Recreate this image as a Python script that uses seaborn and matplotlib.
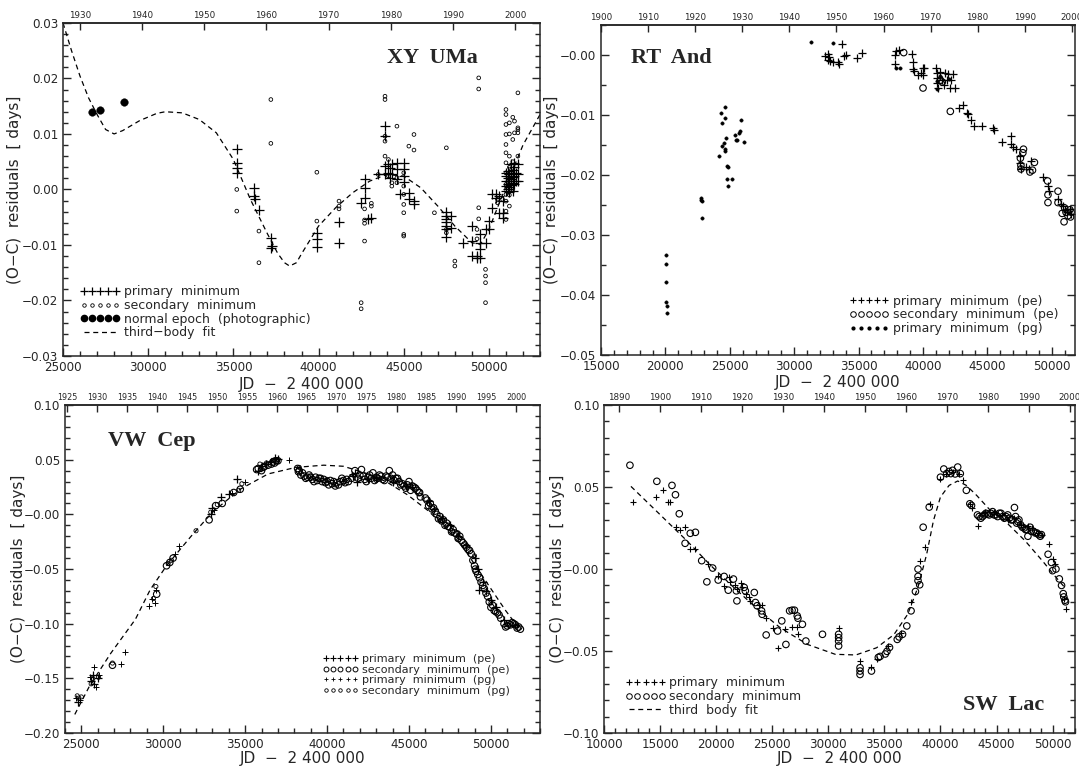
import numpy as np
import matplotlib
matplotlib.use("Agg")
import matplotlib.pyplot as plt
import seaborn as sns
from matplotlib.lines import Line2D
from matplotlib.ticker import MultipleLocator, FuncFormatter

# ---------------------------------------------------------------------------
# XY UMa
# ---------------------------------------------------------------------------
xy_prim_jd = [35200, 35200, 35200, 35200, 36200, 36200, 36250, 36500, 37200, 37200, 37250,
              39900, 39900, 39900, 41200, 41200, 42500, 42700, 42700, 42700, 42900, 43100,
              43500, 43900, 43900, 43900, 43900, 44100, 44100, 44200, 44200, 44300, 44300,
              44600, 44600, 44600, 44800, 45000, 45000, 45000, 45000, 45300, 45300, 45600, 45600,
              47500, 47500, 47500, 47500, 47500, 47500, 47500, 47800, 47800, 48500,
              49000, 49000, 49000, 49300, 49300, 49500, 49500, 49500, 49500, 49800, 49800,
              50000, 50000, 50200, 50200, 50400, 50400, 50600, 50600, 50800, 50800, 50800,
              51000, 51000, 51000, 51000, 51000, 51100, 51100, 51100, 51100,
              51200, 51200, 51200, 51200, 51300, 51300, 51300, 51300,
              51400, 51400, 51400, 51400, 51500, 51500, 51500, 51500,
              51600, 51600, 51700, 51700, 51700]
xy_prim_oc = [0.0072, 0.0048, 0.0030, 0.0039, 0.0003, -0.0012, -0.0018, -0.0037, -0.0087, -0.0105, -0.0102,
              -0.0078, -0.0090, -0.0103, -0.0059, -0.0096, -0.0024, 0.0019, 0.0003, -0.0015, -0.0054, -0.0052,
              0.0027, 0.0115, 0.0096, 0.0042, 0.0027, 0.0045, 0.0030, 0.0039, 0.0021, 0.0045, 0.0027,
              0.0048, 0.0036, 0.0018, -0.0009, 0.0048, 0.0036, 0.0024, 0.0013, -0.0006, -0.0018, -0.0021, -0.0027,
              -0.0041, -0.0047, -0.0053, -0.0059, -0.0066, -0.0072, -0.0085, -0.0048, -0.0069, -0.0096,
              -0.0066, -0.0093, -0.0120, -0.0120, -0.0123, -0.0081, -0.0096, -0.0108, -0.0123, -0.0072, -0.0096,
              -0.0057, -0.0072, -0.0009, -0.0033, -0.0009, -0.0015, -0.0012, -0.0042, -0.0021, -0.0042, -0.0051,
              0.0030, 0.0024, 0.0015, 0.0006, -0.0003, 0.0033, 0.0020, 0.0010, 0.0000,
              0.0027, 0.0015, 0.0005, -0.0005, 0.0045, 0.0030, 0.0018, 0.0008,
              0.0035, 0.0022, 0.0012, -0.0002, 0.0048, 0.0040, 0.0025, 0.0010,
              0.0030, 0.0015, 0.0045, 0.0027, 0.0015]

xy_sec_jd = [35200, 35200, 36500, 36500, 37200, 37200, 39900, 39900, 41200, 41200, 41200,
             42500, 42500, 42700, 42700, 42700, 42700, 43100, 43100, 43500,
             43900, 43900, 43900, 43900, 43900, 44100, 44100, 44300, 44300, 44600, 44600, 44600,
             45000, 45000, 45000, 45000, 45000, 45000, 45000, 45300, 45600, 45600, 46800,
             47500, 47500, 47500, 48000, 48000, 49300, 49300, 49400, 49400, 49400, 49400,
             49800, 49800, 49800, 49800, 50500, 50500, 50800,
             51000, 51000, 51000, 51000, 51000, 51000, 51000, 51000, 51000, 51000, 51000, 51000, 51000,
             51200, 51200, 51200, 51200, 51200, 51200, 51200, 51400, 51400, 51400, 51400,
             51500, 51500, 51700, 51700, 51700, 51700, 51700]
xy_sec_oc = [0.0000, -0.0039, -0.0075, -0.0132, 0.0162, 0.0083, 0.0031, -0.0057, -0.0021, -0.0030, -0.0035,
             -0.0204, -0.0215, -0.0035, -0.0055, -0.0061, -0.0093, -0.0025, -0.0030, 0.0027,
             0.0168, 0.0162, 0.0096, 0.0087, 0.0060, 0.0054, 0.0024, 0.0012, 0.0006, 0.0114, 0.0021, 0.0012,
             0.0030, 0.0006, -0.0009, -0.0027, -0.0042, -0.0081, -0.0084, 0.0078, 0.0099, 0.0071, -0.0042,
             0.0075, -0.0072, -0.0078, -0.0129, -0.0138, -0.0072, -0.0089, 0.0201, 0.0181, -0.0033, -0.0053,
             -0.0144, -0.0156, -0.0168, -0.0204, -0.0018, -0.0024, -0.0018,
             0.0144, 0.0135, 0.0117, 0.0099, 0.0081, 0.0066, 0.0048, 0.0030, 0.0009, -0.0009, -0.0021, -0.0039, -0.0054,
             0.0120, 0.0100, 0.0060, 0.0040, 0.0020, -0.0010, -0.0030, 0.0130, 0.0090, 0.0050, 0.0000,
             0.0123, 0.0102, 0.0174, 0.0111, 0.0108, 0.0102, 0.0060]

xy_norm_jd = [26700, 27200, 28600]
xy_norm_oc = [0.0140, 0.0144, 0.0158]

xy_fit_jd = [25000, 25500, 26000, 26500, 27000, 27500, 28000, 28500, 29500, 30500, 31000, 32000,
             33000, 34000, 35000, 36000, 37000, 37600, 38000, 38300, 38700, 39000, 40000, 41000,
             42000, 43000, 44000, 45000, 46000, 47000, 48000, 49000, 49500, 50000, 51000, 52000, 53000]
xy_fit_oc = [0.0300, 0.0250, 0.0204, 0.0165, 0.0135, 0.0108, 0.0100, 0.0106, 0.0124, 0.0137, 0.0140, 0.0138,
             0.0126, 0.0102, 0.0054, -0.0018, -0.0080, -0.0115, -0.0132, -0.0138, -0.0132, -0.0116, -0.0066, -0.0033,
             -0.0006, 0.0015, 0.0027, 0.0024, 0.0003, -0.0030, -0.0066, -0.0096, -0.0099, -0.0072, 0.0006, 0.0080, 0.0135]

# ---------------------------------------------------------------------------
# RT And
# ---------------------------------------------------------------------------
rt_pg_jd = [20080, 20080, 20080, 20080, 20100, 20100, 22800, 22800, 22820, 22820,
            24160, 24350, 24400, 24400, 24620, 24620, 24560, 24600, 24620, 24700, 24750, 24830, 24750,
            24890, 25200, 25370, 25480, 25580, 25690, 25820, 25900, 26090,
            31300, 33030, 37900, 38250, 41050, 41050, 42000, 41300]
rt_pg_oc = [-0.0334, -0.0348, -0.0378, -0.0412, -0.0418, -0.0430, -0.0238, -0.0241, -0.0244, -0.0271,
            -0.0169, -0.0096, -0.0114, -0.0152, -0.0087, -0.0105, -0.0146, -0.0157, -0.0160, -0.0138, -0.0185, -0.0186, -0.0206,
            -0.0219, -0.0206, -0.0133, -0.0142, -0.0142, -0.0130, -0.0126, -0.0109, -0.0145,
            0.0022, 0.0020, -0.0022, -0.0021, -0.0044, -0.0057, -0.0040, -0.0035]

rt_pe_jd = [32400, 32600, 32700, 32650, 32800, 33000, 33400, 33450, 33700, 33900, 34000, 34900, 35300,
            37850, 37900, 38100, 37800, 39180, 39200, 39260, 39300, 39580, 39850, 39980, 40050, 40000,
            41000, 41050, 41100, 41100, 41150, 41300, 41450, 41600, 41700, 41850, 41950, 42100, 42200, 42350, 42500,
            42780, 43100, 43450, 43500, 43700, 43990, 44600, 45460, 45500, 46120, 46800, 46850, 46950, 47190,
            47540, 47560, 47600, 48000, 48250, 48400, 49300, 49700, 49750, 50500, 50700, 50900, 51000, 51200, 51400, 51500]
rt_pe_oc = [-0.0002, 0.0001, -0.0004, -0.0008, -0.0010, -0.0011, -0.0011, -0.0015, 0.0019, -0.0001, 0.0000, -0.0005, 0.0004,
            0.0000, 0.0006, 0.0009, -0.0015, 0.0001, -0.0012, -0.0024, -0.0027, -0.0033, -0.0030, -0.0022, -0.0021, -0.0033,
            -0.0022, -0.0030, -0.0039, -0.0047, -0.0055, -0.0028, -0.0041, -0.0050, -0.0030, -0.0041, -0.0031, -0.0055, -0.0041, -0.0032, -0.0055,
            -0.0088, -0.0084, -0.0097, -0.0099, -0.0108, -0.0119, -0.0118, -0.0122, -0.0125, -0.0145, -0.0135, -0.0149, -0.0154, -0.0157,
            -0.0169, -0.0180, -0.0190, -0.0187, -0.0190, -0.0176, -0.0204, -0.0218, -0.0226, -0.0240, -0.0248, -0.0252, -0.0258, -0.0262, -0.0256, -0.0265]

rt_sec_jd = [38500, 40000, 41350, 41500, 42120, 47560, 47600, 47600, 47750, 47800, 48300, 48500, 48650,
             49670, 49700, 49700, 50480, 50480, 50800, 50950, 51000, 51100, 51250, 51400, 51450, 51500]
rt_sec_oc = [0.0004, -0.0055, -0.0042, -0.0045, -0.0094, -0.0172, -0.0184, -0.0190, -0.0163, -0.0157, -0.0195, -0.0192, -0.0179,
             -0.0210, -0.0233, -0.0246, -0.0227, -0.0246, -0.0264, -0.0278, -0.0255, -0.0262, -0.0268, -0.0258, -0.0270, -0.0262]

# ---------------------------------------------------------------------------
# VW Cep
# ---------------------------------------------------------------------------
vw_pe_jd = [24800, 25600, 25700, 25800, 26000, 34500, 34000, 33500, 33000, 32900,
            35800, 36000, 36300, 36600, 36800, 37000,
            41600, 41700, 41800, 42500, 43000, 44000, 44800, 45200,
            46200, 46500, 47000, 47500, 48000, 48500, 49000, 49200, 49300, 49500, 49700, 50000, 50300, 50800, 51500]
vw_pe_oc = [-0.172, -0.152, -0.147, -0.155, -0.150, 0.032, 0.019, 0.016, 0.006, 0.000,
            0.040, 0.044, 0.046, 0.048, 0.052, 0.051,
            0.035, 0.038, 0.030, 0.032, 0.033, 0.030, 0.026, 0.025,
            0.012, 0.005, -0.003, -0.010, -0.020, -0.028, -0.040, -0.050, -0.069, -0.062, -0.070, -0.078, -0.085, -0.097, -0.101]

vw_sec_jd = [38200, 38300, 38500, 38600, 38700, 38900, 39000, 39100, 39300, 39400, 39500, 39700, 39800,
             40000, 40200, 40300, 40500, 40600, 40800, 41000, 41200, 41500, 41700, 42000, 42100, 42300,
             42500, 42600, 42800, 43000, 43200, 43400, 43600, 43800, 44000, 44200, 44400, 44600, 44800,
             45000, 45200, 45400, 45600, 45700,
             46100, 46300, 46500, 46700, 46900, 47100, 47300, 47500, 47700, 47900, 48100, 48300, 48500,
             48700, 48900, 49000, 49100, 49300, 49500, 49700, 49900, 50000, 50200, 50400, 50600, 50900,
             51100, 51300, 51500, 51700, 51800,
             26900, 29600, 30200, 30400, 30600, 32800, 33200, 33600, 34300, 34700,
             35800, 36100, 36400, 36700, 36900,
             38250, 38400, 38800, 39200, 39600, 39900, 40100, 40400, 40700, 40900, 41100, 41300,
             41900, 42200, 42400, 42700, 42900, 43100, 43300, 43500, 43700, 43900, 44100, 44300,
             44500, 44700, 44900, 45100, 45300, 45500, 45650,
             46000, 46200, 46400, 46600, 46800, 47000, 47200, 47400, 47600, 47800, 48000, 48200,
             48400, 48600, 48800, 49050, 49200, 49400, 49600, 49800, 50100, 50300, 50500, 50800,
             51000, 51200, 51400, 51600,
             35700, 36000, 36200, 36600, 36800, 37000]
vw_sec_oc = [0.042, 0.040, 0.038, 0.035, 0.033, 0.036, 0.034, 0.032, 0.034, 0.031, 0.033, 0.030, 0.032,
             0.030, 0.031, 0.028, 0.026, 0.029, 0.030, 0.031, 0.032, 0.033, 0.040, 0.036, 0.041, 0.032,
             0.034, 0.036, 0.038, 0.034, 0.036, 0.032, 0.035, 0.040, 0.036, 0.033, 0.030, 0.028, 0.024,
             0.030, 0.026, 0.024, 0.020, 0.016,
             0.013, 0.010, 0.006, 0.000, -0.002, -0.005, -0.008, -0.012, -0.014, -0.018, -0.020, -0.026, -0.030,
             -0.033, -0.042, -0.047, -0.052, -0.058, -0.065, -0.072, -0.080, -0.085, -0.088, -0.090, -0.095, -0.103,
             -0.100, -0.099, -0.101, -0.103, -0.105,
             -0.138, -0.073, -0.047, -0.044, -0.040, -0.005, 0.008, 0.010, 0.020, 0.023,
             0.042, 0.043, 0.045, 0.048, 0.049,
             0.039, 0.036, 0.034, 0.030, 0.033, 0.029, 0.027, 0.030, 0.027, 0.033, 0.029, 0.030,
             0.033, 0.035, 0.030, 0.033, 0.031, 0.033, 0.035, 0.031, 0.034, 0.033, 0.031, 0.033,
             0.027, 0.026, 0.027, 0.022, 0.025, 0.022, 0.020,
             0.015, 0.008, 0.005, 0.003, -0.004, -0.006, -0.010, -0.011, -0.016, -0.017, -0.022, -0.024,
             -0.028, -0.032, -0.036, -0.050, -0.055, -0.062, -0.068, -0.075, -0.083, -0.089, -0.092, -0.100,
             -0.102, -0.101, -0.100, -0.104,
             0.041, 0.040, 0.044, 0.046, 0.047, 0.049]

vw_pgp_jd = [24700, 24900, 25500, 25750, 25900, 26100, 27400, 27650, 29150, 29300, 29500, 29550,
             30700, 30950, 33100, 34200, 35000, 36500, 37700, 41500]
vw_pgp_oc = [-0.168, -0.170, -0.149, -0.140, -0.158, -0.147, -0.137, -0.126, -0.084, -0.077, -0.081, -0.069,
             -0.036, -0.029, 0.004, 0.020, 0.030, 0.048, 0.050, 0.037]

vw_pgs_jd = [24750, 24850, 25000, 25600, 25700, 26050, 26900, 29400, 29550, 30300, 30500, 32000,
             32900, 33300, 34600, 34800, 35900, 36300, 36800, 38300, 39000, 40000, 40500, 41000,
             42000, 43000, 44000, 45000, 46200, 47000, 48000, 49000, 50000, 51000, 51600]
vw_pgs_oc = [-0.166, -0.168, -0.167, -0.155, -0.150, -0.149, -0.136, -0.077, -0.066, -0.045, -0.042, -0.015,
             0.002, 0.009, 0.022, 0.028, 0.046, 0.047, 0.050, 0.043, 0.035, 0.032, 0.027, 0.029,
             0.033, 0.031, 0.033, 0.026, 0.010, -0.006, -0.017, -0.038, -0.081, -0.101, -0.102]

vw_fit_jd = [24600, 25500, 26800, 28300, 29200, 30200, 31700, 33000, 34700, 36400, 38100, 39800,
             41000, 42300, 43600, 44900, 46200, 47200, 48300, 49200, 50000, 50900, 51700]
vw_fit_oc = [-0.183, -0.157, -0.127, -0.096, -0.069, -0.047, -0.020, 0.002, 0.023, 0.037, 0.043, 0.045,
             0.044, 0.038, 0.030, 0.018, 0.003, -0.012, -0.030, -0.050, -0.068, -0.088, -0.104]

# ---------------------------------------------------------------------------
# SW Lac
# ---------------------------------------------------------------------------
sw_sec_jd = [12310, 14710, 16060, 16370, 16710, 17230, 17690, 18150, 18710, 19170, 19690, 20180, 20710,
             21080, 21540, 21800, 21850, 22500, 22600, 23400, 23500, 23650, 24050, 24100, 24460, 25480,
             25850, 26220, 26550, 26770, 26980, 27230, 27290, 27690, 28000, 29480, 30920, 30920, 30920,
             30920, 32830, 32830, 32830, 33850, 34460, 34620, 35080, 35230, 35460, 36150, 36310, 36620,
             37000, 37380, 37770, 38000, 38000, 38000, 38150, 38460, 39000, 40000, 40300, 40550, 40770,
             40920, 41080, 41310, 41540, 41770, 42310, 42620, 42770,
             43300, 43600, 43900, 44200, 44500, 44800, 45100, 45400, 45700, 46000, 46300, 46600, 46800,
             47000, 47300, 47600, 47800, 48000, 48300, 48600, 48900, 49000,
             49600, 49900, 50000, 50300, 50600, 50800, 50950, 51000, 51100, 51150,
             43450, 43750, 44050, 44350, 44650, 44950, 45250, 45550, 45850, 46150, 46450, 46700,
             46900, 47150, 47450, 47700, 48100, 48450, 48750]
sw_sec_oc = [0.0633, 0.0535, 0.0510, 0.0453, 0.0337, 0.0157, 0.0218, 0.0224, 0.0051, -0.0078, 0.0006, -0.0067, -0.0045,
             -0.0129, -0.0061, -0.0133, -0.0194, -0.0112, -0.0133, -0.0143, -0.0204, -0.0224, -0.0255, -0.0276, -0.0402, -0.0378,
             -0.0316, -0.0460, -0.0255, -0.0251, -0.0251, -0.0286, -0.0300, -0.0337, -0.0439, -0.0398, -0.0398, -0.0418, -0.0439,
             -0.0469, -0.0602, -0.0622, -0.0643, -0.0622, -0.0539, -0.0533, -0.0518, -0.0502, -0.0478, -0.0429, -0.0414, -0.0398,
             -0.0347, -0.0255, -0.0137, -0.0071, -0.0045, 0.0000, -0.0096, 0.0255, 0.0378, 0.0560, 0.0610, 0.0582, 0.0595,
             0.0582, 0.0602, 0.0580, 0.0622, 0.0582, 0.0480, 0.0398, 0.0388,
             0.0330, 0.0310, 0.0330, 0.0335, 0.0340, 0.0330, 0.0320, 0.0340, 0.0310, 0.0330, 0.0300, 0.0375, 0.0280,
             0.0300, 0.0255, 0.0240, 0.0200, 0.0255, 0.0230, 0.0220, 0.0200, 0.0210,
             0.0090, 0.0040, -0.0010, 0.0000, -0.0060, -0.0100, -0.0150, -0.0170, -0.0190, -0.0200,
             0.0320, 0.0320, 0.0340, 0.0330, 0.0350, 0.0330, 0.0340, 0.0320, 0.0320, 0.0310, 0.0300, 0.0320,
             0.0290, 0.0270, 0.0250, 0.0240, 0.0230, 0.0220, 0.0210]

sw_prim_jd = [12620, 14610, 15230, 15690, 15850, 16400, 16770, 17230, 17690, 18150, 19230, 20150, 20710,
              21150, 21230, 21690, 21850, 22250, 22310, 22620, 22920, 23000, 23850, 24100, 24460, 25080,
              25480, 26150, 26770, 27230, 27290, 30920, 32830, 33850, 34310, 35310, 36460, 37380, 38150,
              38620, 39090, 40000, 40460, 41080, 41620, 42000, 42620, 42800, 43380, 44000, 44800, 45500,
              46000, 46600, 47200, 47800, 48200, 48700, 49100, 49700, 50000, 50200, 51000, 51230]
sw_prim_oc = [0.0408, 0.0439, 0.0480, 0.0408, 0.0408, 0.0255, 0.0239, 0.0259, 0.0122, 0.0122, 0.0030, -0.0041, -0.0102,
              -0.0051, -0.0077, -0.0096, -0.0122, -0.0088, -0.0112, -0.0153, -0.0173, -0.0194, -0.0218, -0.0218, -0.0296, -0.0357,
              -0.0480, -0.0367, -0.0352, -0.0352, -0.0398, -0.0357, -0.0561, -0.0598, -0.0551, -0.0469, -0.0388, -0.0204, 0.0051,
              0.0133, 0.0398, 0.0551, 0.0582, 0.0592, 0.0582, 0.0545, 0.0398, 0.0370, 0.0265, 0.0350, 0.0350, 0.0330,
              0.0300, 0.0310, 0.0270, 0.0260, 0.0250, 0.0220, 0.0210, 0.0150, 0.0060, 0.0030, -0.0180, -0.0245]

sw_fit_jd = [12400, 14920, 17380, 19540, 21380, 23540, 25690, 28150, 30620, 32460, 34310, 35850, 37080,
             38000, 38770, 39380, 40000, 40770, 41540, 42310, 43230, 44460, 46000, 47540, 49080, 50310, 51080]
sw_fit_oc = [0.0504, 0.0337, 0.0173, 0.0020, -0.0100, -0.0235, -0.0357, -0.0460, -0.0520, -0.0524, -0.0480, -0.0400, -0.0276,
             -0.0110, 0.0090, 0.0296, 0.0439, 0.0510, 0.0537, 0.0510, 0.0449, 0.0357, 0.0276, 0.0173, 0.0051, -0.0051, -0.0112]

# ---------------------------------------------------------------------------
sns.set_style("ticks")
plt.rcParams["font.family"] = ["DejaVu Sans"]
plt.rcParams["axes.linewidth"] = 1.1
plt.rcParams["xtick.direction"] = "in"
plt.rcParams["ytick.direction"] = "in"

fig = plt.figure(figsize=(10.79, 7.67), dpi=100)
ax1 = fig.add_axes([0.0584, 0.5359, 0.4421, 0.4342])
ax2 = fig.add_axes([0.5570, 0.5372, 0.4393, 0.4302])
ax3 = fig.add_axes([0.0602, 0.0443, 0.4403, 0.4276])
ax4 = fig.add_axes([0.5598, 0.0443, 0.4365, 0.4276])


def jd2year(jd):
    return 2000.0 + (np.asarray(jd, dtype=float) - 51544.5) / 365.25


def year2jd(yr):
    return 51544.5 + (np.asarray(yr, dtype=float) - 2000.0) * 365.25


def plus(ax, x, y, s=40, lw=0.9):
    sns.scatterplot(x=x, y=y, ax=ax, marker="+", color="black", s=s, linewidth=lw)


def circ(ax, x, y, s=12, lw=0.7):
    sns.scatterplot(x=x, y=y, ax=ax, marker="o", color="none", edgecolor="black", s=s, linewidth=lw)


def dot(ax, x, y, s=6):
    sns.scatterplot(x=x, y=y, ax=ax, marker="o", color="black", edgecolor="black", s=s, linewidth=0.3)


def fitline(ax, x, y):
    sns.lineplot(x=x, y=y, ax=ax, color="black", linewidth=0.9, sort=False,
                 linestyle=(0, (4, 3)), estimator=None)


def style(ax, xlim, ylim, xminor, ymajor, yminor, years, ylab_x, xlab_y, yfs=6.3, negzero=True):
    ax.set_xlim(*xlim)
    ax.set_ylim(*ylim)
    ax.xaxis.set_major_locator(MultipleLocator(5000))
    ax.xaxis.set_minor_locator(MultipleLocator(xminor))
    ax.yaxis.set_major_locator(MultipleLocator(ymajor))
    ax.yaxis.set_minor_locator(MultipleLocator(yminor))

    def fmt(v, pos):
        if abs(v) < 1e-9:
            return "\u22120.00" if negzero else "0.00"
        return f"{v:.2f}".replace("-", "\u2212")
    ax.yaxis.set_major_formatter(FuncFormatter(fmt))
    ax.xaxis.set_major_formatter(FuncFormatter(lambda v, p: f"{v:.0f}"))
    ax.tick_params(which="both", direction="in", top=False, right=True, labelsize=8.6, width=1.0)
    ax.tick_params(which="major", length=6)
    ax.tick_params(which="minor", length=3.5)
    ax.set_xlabel("JD  \u2212  2 400 000", fontsize=11)
    ax.set_ylabel("(O\u2212C)  residuals  [ days]", fontsize=11)
    ax.yaxis.set_label_coords(ylab_x, 0.5)
    ax.xaxis.set_label_coords(0.5, xlab_y)
    sec = ax.secondary_xaxis("top", functions=(jd2year, year2jd))
    sec.set_xticks(years)
    sec.set_xticklabels([str(y) for y in years], fontsize=yfs)
    sec.tick_params(direction="in", length=5, pad=2, width=1.0)


def legend(ax, handles, labels, loc, anchor, fs=9):
    leg = ax.legend(handles, labels, loc=loc, bbox_to_anchor=anchor, frameon=False, fontsize=fs,
                    numpoints=5, handlelength=3.2, handletextpad=0.3, labelspacing=0.05,
                    borderaxespad=0.0)
    return leg


serif = ["Liberation Serif", "DejaVu Serif"]

# --- XY UMa ---
fitline(ax1, xy_fit_jd, xy_fit_oc)
plus(ax1, xy_prim_jd, xy_prim_oc, s=55, lw=0.9)
circ(ax1, xy_sec_jd, xy_sec_oc, s=7, lw=0.6)
dot(ax1, xy_norm_jd, xy_norm_oc, s=30)
style(ax1, (25000, 53000), (-0.03, 0.03), 1000, 0.01, 0.002,
      list(range(1930, 2001, 10)), -0.087, -0.062, negzero=False)
ax1.text(0.775, 0.895, "XY  UMa", transform=ax1.transAxes, ha="center", va="center",
         fontsize=16, fontweight="bold", family=serif)
legend(ax1,
       [Line2D([], [], ls="none", marker="+", color="k", ms=6, mew=0.9),
        Line2D([], [], ls="none", marker="o", mfc="none", mec="k", ms=2.5, mew=0.6),
        Line2D([], [], ls="none", marker="o", color="k", ms=4.5),
        Line2D([], [], ls=(0, (4, 3)), color="k", lw=0.9)],
       ["primary  minimum", "secondary  minimum", "normal epoch  (photographic)", "third\u2212body  fit"],
       "lower left", (0.025, 0.035))

# --- RT And ---
dot(ax2, rt_pg_jd, rt_pg_oc, s=6)
plus(ax2, rt_pe_jd, rt_pe_oc, s=35, lw=0.9)
circ(ax2, rt_sec_jd, rt_sec_oc, s=22, lw=0.8)
style(ax2, (15000, 51800), (-0.05, 0.005), 1000, 0.01, 0.005,
      list(range(1900, 2001, 10)), -0.088, -0.062)
ax2.text(0.063, 0.90, "RT  And", transform=ax2.transAxes, ha="left", va="center",
         fontsize=16, fontweight="bold", family=serif)
legend(ax2,
       [Line2D([], [], ls="none", marker="+", color="k", ms=5, mew=0.8),
        Line2D([], [], ls="none", marker="o", mfc="none", mec="k", ms=4, mew=0.7),
        Line2D([], [], ls="none", marker="o", color="k", ms=2)],
       ["primary  minimum  (pe)", "secondary  minimum  (pe)", "primary  minimum  (pg)"],
       "lower right", (0.975, 0.045))

# --- VW Cep ---
fitline(ax3, vw_fit_jd, vw_fit_oc)
circ(ax3, vw_sec_jd, vw_sec_oc, s=22, lw=0.8)
plus(ax3, vw_pe_jd, vw_pe_oc, s=35, lw=0.9)
plus(ax3, vw_pgp_jd, vw_pgp_oc, s=14, lw=0.7)
circ(ax3, vw_pgs_jd, vw_pgs_oc, s=9, lw=0.6)
style(ax3, (24000, 53000), (-0.20, 0.10), 1000, 0.05, 0.01,
      list(range(1925, 2001, 5)), -0.082, -0.056, yfs=5.8)
ax3.text(0.09, 0.89, "VW  Cep", transform=ax3.transAxes, ha="left", va="center",
         fontsize=16, fontweight="bold", family=serif)
legend(ax3,
       [Line2D([], [], ls="none", marker="+", color="k", ms=4.5, mew=0.8),
        Line2D([], [], ls="none", marker="o", mfc="none", mec="k", ms=3.5, mew=0.7),
        Line2D([], [], ls="none", marker="+", color="k", ms=3, mew=0.6),
        Line2D([], [], ls="none", marker="o", mfc="none", mec="k", ms=2.5, mew=0.6)],
       ["primary  minimum  (pe)", "secondary  minimum  (pe)", "primary  minimum  (pg)",
        "secondary  minimum  (pg)"],
       "lower right", (0.945, 0.10), fs=8)

# --- SW Lac ---
fitline(ax4, sw_fit_jd, sw_fit_oc)
circ(ax4, sw_sec_jd, sw_sec_oc, s=22, lw=0.8)
plus(ax4, sw_prim_jd, sw_prim_oc, s=22, lw=0.8)
style(ax4, (10000, 52000), (-0.10, 0.10), 1000, 0.05, 0.01,
      list(range(1890, 2001, 10)), -0.082, -0.056)
ax4.text(0.935, 0.085, "SW  Lac", transform=ax4.transAxes, ha="right", va="center",
         fontsize=16, fontweight="bold", family=serif)
legend(ax4,
       [Line2D([], [], ls="none", marker="+", color="k", ms=4.5, mew=0.8),
        Line2D([], [], ls="none", marker="o", mfc="none", mec="k", ms=4, mew=0.7),
        Line2D([], [], ls=(0, (4, 3)), color="k", lw=0.9)],
       ["primary  minimum", "secondary  minimum", "third  body  fit"],
       "lower left", (0.035, 0.035))

for ax in (ax1, ax2, ax3, ax4):
    for sp in ax.spines.values():
        sp.set_visible(True)
        sp.set_linewidth(1.1)

fig.savefig("out.png", dpi=100)
